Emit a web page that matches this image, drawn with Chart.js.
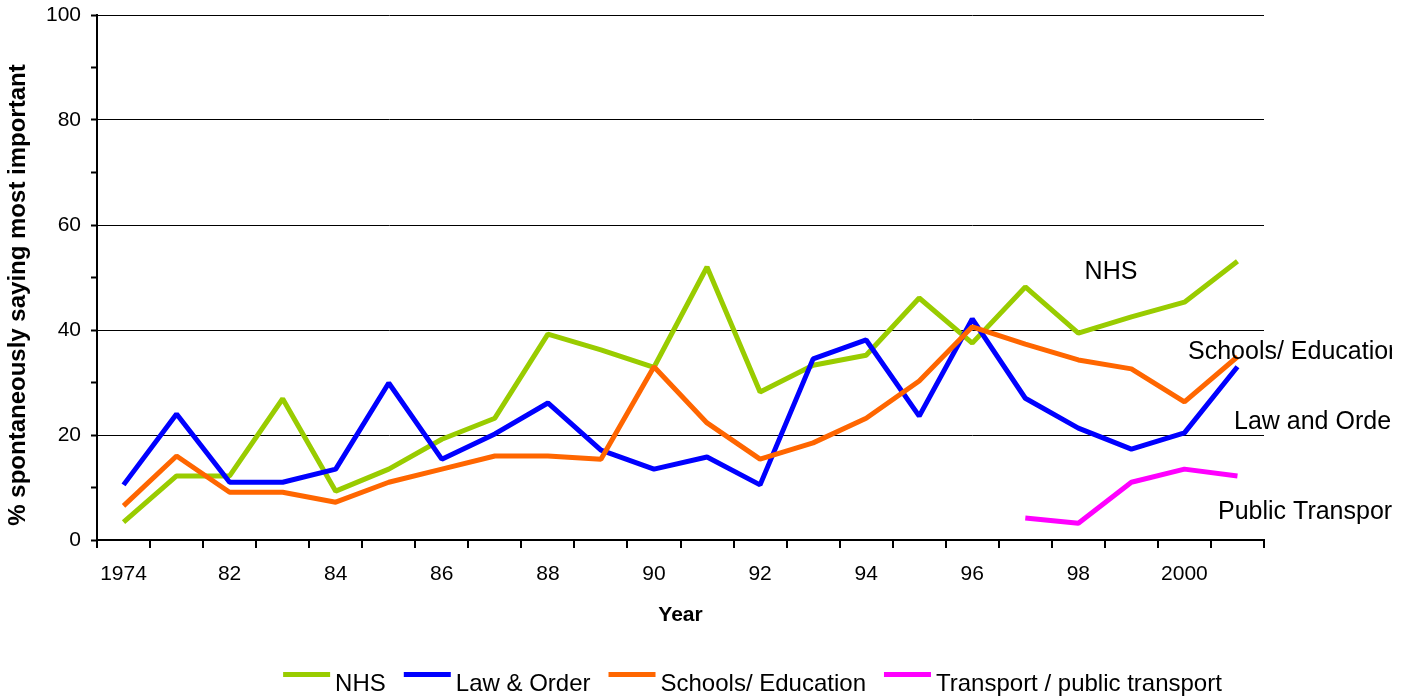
<!DOCTYPE html>
<html>
<head>
<meta charset="utf-8">
<title>Most important issues</title>
<script src="https://cdn.jsdelivr.net/npm/chart.js@4.4.1/dist/chart.umd.min.js"></script>
<style>
  html, body { margin: 0; padding: 0; background: #fff; }
</style>
</head>
<body>
<canvas id="chart" width="1409" height="699"></canvas>
<script>
// survey years (only every other one gets a tick label)
const years = ["1974", "", "82", "83", "84", "85", "86", "87", "88", "89", "90",
  "91", "92", "93", "94", "95", "96", "97", "98", "99", "2000", "2001"];

// % spontaneously naming each issue
const nhs = [3.4, 12.2, 12.2, 26.9, 9.3, 13.5, 19.2, 23.2, 39.2, 36.2, 32.9,
  52.0, 28.2, 33.3, 35.2, 46.1, 37.5, 48.2, 39.4, 42.5, 45.3, 53.1];
const lawOrder = [10.5, 24.0, 11.0, 11.0, 13.5, 29.9, 15.4, 20.2, 26.1, 17.1, 13.5,
  15.8, 10.5, 34.5, 38.1, 23.6, 42.1, 27.0, 21.3, 17.3, 20.4, 33.0];
const schools = [6.5, 16.0, 9.1, 9.1, 7.2, 11.0, 13.5, 16.0, 16.0, 15.4, 33.0,
  22.3, 15.4, 18.5, 23.2, 30.3, 40.6, 37.3, 34.3, 32.6, 26.3, 34.9];
const transport = [null, null, null, null, null, null, null, null, null, null, null,
  null, null, null, null, null, null, 4.2, 3.2, 11.0, 13.5, 12.2];

const FONT = '"Liberation Sans", Arial, sans-serif';

// text labels written next to the lines on the right
const seriesNotes = {
  id: 'seriesNotes',
  afterDatasetsDraw(chart, args, opts) {
    const ctx = chart.ctx;
    ctx.save();
    ctx.beginPath();
    ctx.rect(0, 0, opts.clipRight, chart.height);
    ctx.clip();
    ctx.font = '25px ' + FONT;
    ctx.fillStyle = '#000';
    ctx.textBaseline = 'alphabetic';
    opts.items.forEach(n => {
      ctx.textAlign = n.align;
      ctx.fillText(n.text, n.x, n.y);
    });
    ctx.restore();
  }
};

// rotated y axis caption
const axisCaption = {
  id: 'axisCaption',
  afterDraw(chart, args, opts) {
    const ctx = chart.ctx;
    ctx.save();
    ctx.translate(opts.x, opts.y);
    ctx.rotate(-Math.PI / 2);
    ctx.font = 'bold 24px ' + FONT;
    ctx.fillStyle = '#000';
    ctx.textAlign = 'center';
    ctx.textBaseline = 'middle';
    ctx.fillText(opts.text, 0, 0);
    ctx.restore();
  }
};

// legend row under the chart
const bottomKey = {
  id: 'bottomKey',
  afterDraw(chart, args, opts) {
    const ctx = chart.ctx;
    ctx.save();
    ctx.font = '24px ' + FONT;
    const items = chart.data.datasets.map(ds => ({
      label: ds.label, color: ds.borderColor, w: ctx.measureText(ds.label).width
    }));
    const total = items.reduce((s, it) => s + opts.swatch + opts.gap + it.w, 0) +
      opts.spacing * (items.length - 1);
    let x = opts.centerX - total / 2;
    items.forEach(it => {
      ctx.fillStyle = it.color;
      ctx.fillRect(x, opts.lineY - 2.5, opts.swatch, 5);
      ctx.fillStyle = '#000';
      ctx.textAlign = 'left';
      ctx.textBaseline = 'alphabetic';
      ctx.fillText(it.label, x + opts.swatch + opts.gap, opts.baseline);
      x += opts.swatch + opts.gap + it.w + opts.spacing;
    });
    ctx.restore();
  }
};

new Chart(document.getElementById('chart'), {
  type: 'line',
  data: {
    labels: years,
    datasets: [
      { label: 'NHS', data: nhs, borderColor: '#99CC00', order: 3 },
      { label: 'Law & Order', data: lawOrder, borderColor: '#0000FF', order: 2 },
      { label: 'Schools/ Education', data: schools, borderColor: '#FF6600', order: 1 },
      { label: 'Transport / public transport', data: transport, borderColor: '#FF00FF', order: 0 }
    ]
  },
  options: {
    responsive: false,
    animation: false,
    layout: { padding: { left: 0, top: 15, right: 145, bottom: 69 } },
    elements: {
      point: { radius: 0, hoverRadius: 0 },
      line: { borderWidth: 5, tension: 0, borderJoinStyle: 'bevel', borderCapStyle: 'butt', fill: false }
    },
    plugins: {
      legend: { display: false },
      tooltip: { enabled: false },
      seriesNotes: {
        clipRight: 1392,
        items: [
          { text: 'NHS', x: 1111, y: 279, align: 'center' },
          { text: 'Schools/ Education', x: 1188, y: 359, align: 'left' },
          { text: 'Law and Order', x: 1234, y: 429, align: 'left' },
          { text: 'Public Transport', x: 1218, y: 519, align: 'left' }
        ]
      },
      axisCaption: { text: '% spontaneously saying most important', x: 18, y: 295 },
      bottomKey: { centerX: 752.5, lineY: 674.5, baseline: 691, swatch: 47, gap: 5, spacing: 18 }
    },
    scales: {
      x: {
        offset: true,
        border: { color: '#000', width: 2 },
        grid: { offset: true, drawOnChartArea: false, color: '#000', tickColor: '#000', tickLength: 8, lineWidth: 2 },
        ticks: {
          autoSkip: false, maxRotation: 0, padding: 14, color: '#000',
          font: { family: FONT, size: 21 },
          callback(v, i) { return i % 2 === 0 ? this.getLabelForValue(v) : ''; }
        },
        title: {
          display: true, text: 'Year', color: '#000',
          font: { family: FONT, size: 21, weight: 'bold' },
          padding: { top: 0, bottom: 2.4 }
        },
        afterFit(s) { s.height = 90; }
      },
      y: {
        min: 0, max: 100,
        border: { color: '#000', width: 2 },
        grid: {
          color: c => (c.tick && c.tick.value % 20 === 0 ? '#000' : 'rgba(0,0,0,0)'),
          tickColor: '#000', tickLength: 6, lineWidth: 1, tickWidth: 2
        },
        ticks: {
          stepSize: 5, padding: 10, color: '#000',
          font: { family: FONT, size: 21 },
          callback: v => (v % 20 === 0 ? v : '')
        },
        afterFit(s) {
          s.width = 97;
          // let the top label overhang instead of pushing the plot down
          s.paddingTop = 0;
          s.paddingBottom = 0;
        }
      }
    }
  },
  plugins: [seriesNotes, axisCaption, bottomKey]
});
</script>
</body>
</html>
